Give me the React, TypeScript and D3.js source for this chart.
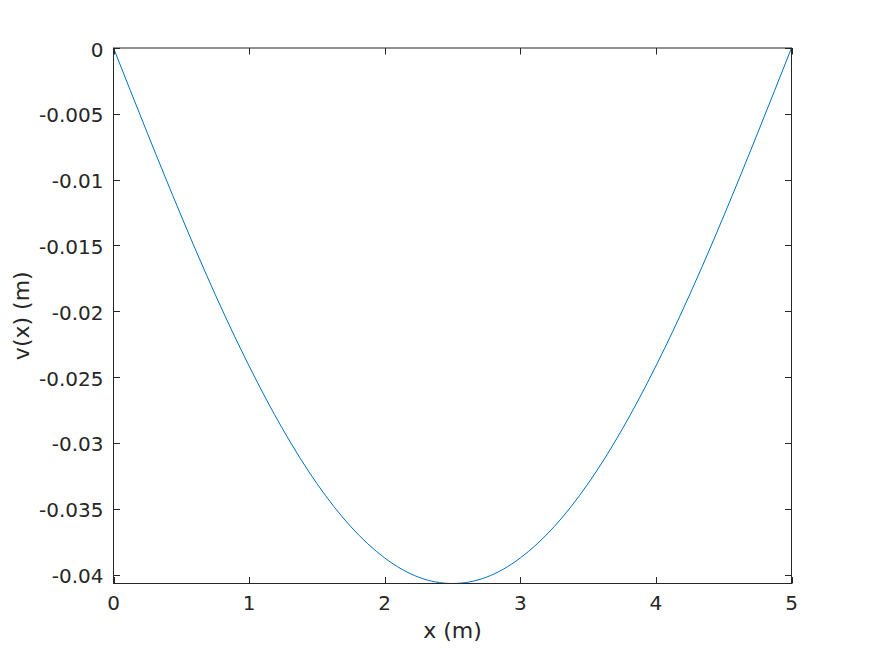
import React, { useRef, useEffect } from 'react';
import * as d3 from 'd3';

const W = 874;
const H = 655;
const M = { left: 113.5, right: 874 - 791.5, top: 48, bottom: 655 - 583.5 };

// deflection, every 0.25 m
const xs = [0, 0.25, 0.5, 0.75, 1, 1.25, 1.5, 1.75, 2, 2.25, 2.5, 2.75, 3, 3.25, 3.5, 3.75, 4, 4.25, 4.5, 4.75, 5];
const vs = [
  0, -0.00647, -0.01277, -0.01872, -0.02416, -0.02899, -0.03309, -0.03636, -0.03874, -0.04020, -0.04068,
  -0.04020, -0.03874, -0.03636, -0.03309, -0.02899, -0.02416, -0.01872, -0.01277, -0.00647, 0,
];
const xTicks = [0, 1, 2, 3, 4, 5];
const yTicks = [0, -0.005, -0.01, -0.015, -0.02, -0.025, -0.03, -0.035, -0.04];
const yMin = -0.04068;

const FONT = 'DejaVu Sans, sans-serif';
const INK = '#262626';

export default function App() {
  const ref = useRef<SVGSVGElement>(null);

  useEffect(() => {
    if (!ref.current) return;
    const svg = d3.select(ref.current);
    svg.selectAll('*').remove();

    const x = d3.scaleLinear().domain([0, 5]).range([M.left, W - M.right]);
    const y = d3.scaleLinear().domain([yMin, 0]).range([H - M.bottom, M.top]);

    svg.append('rect').attr('width', W).attr('height', H).attr('fill', '#fff');

    const line = d3
      .line<number>()
      .x((_, i) => x(xs[i]))
      .y((d) => y(d))
      .curve(d3.curveNatural);
    svg.append('path')
      .attr('d', line(vs) ?? '')
      .attr('fill', 'none')
      .attr('stroke', '#0072BD')
      .attr('stroke-width', 1);

    // box
    svg.append('rect')
      .attr('x', x(0))
      .attr('y', y(0))
      .attr('width', x(5) - x(0))
      .attr('height', y(yMin) - y(0))
      .attr('fill', 'none')
      .attr('stroke', INK)
      .attr('stroke-width', 1);

    const tl = 6.5;
    xTicks.forEach((t) => {
      const px = Math.round(x(t)) + 0.5;
      svg.append('line').attr('x1', px).attr('x2', px).attr('y1', y(yMin)).attr('y2', y(yMin) - tl).attr('stroke', INK);
      svg.append('line').attr('x1', px).attr('x2', px).attr('y1', y(0)).attr('y2', y(0) + tl).attr('stroke', INK);
      svg.append('text')
        .attr('x', x(t))
        .attr('y', 610)
        .attr('text-anchor', 'middle')
        .attr('font-family', FONT)
        .attr('font-size', 20)
        .attr('fill', INK)
        .text(String(t));
    });
    yTicks.forEach((t) => {
      const py = Math.round(y(t)) + 0.5;
      svg.append('line').attr('x1', x(0)).attr('x2', x(0) + tl).attr('y1', py).attr('y2', py).attr('stroke', INK);
      svg.append('line').attr('x1', x(5)).attr('x2', x(5) - tl).attr('y1', py).attr('y2', py).attr('stroke', INK);
      svg.append('text')
        .attr('x', x(0) - 10)
        .attr('y', y(t) + 8.5)
        .attr('text-anchor', 'end')
        .attr('font-family', FONT)
        .attr('font-size', 20)
        .attr('fill', INK)
        .text(t === 0 ? '0' : String(t));
    });

    svg.append('text')
      .attr('x', (x(0) + x(5)) / 2)
      .attr('y', 638)
      .attr('text-anchor', 'middle')
      .attr('font-family', FONT)
      .attr('font-size', 22)
      .attr('fill', INK)
      .text('x (m)');

    svg.append('text')
      .attr('transform', `translate(29, ${(y(0) + y(yMin)) / 2}) rotate(-90)`)
      .attr('text-anchor', 'middle')
      .attr('font-family', FONT)
      .attr('font-size', 22)
      .attr('fill', INK)
      .text('v(x) (m)');
  }, []);

  return (
    <svg
      ref={ref}
      width={W}
      height={H}
      style={{ position: 'absolute', left: 0, top: 0, display: 'block' }}
    />
  );
}
